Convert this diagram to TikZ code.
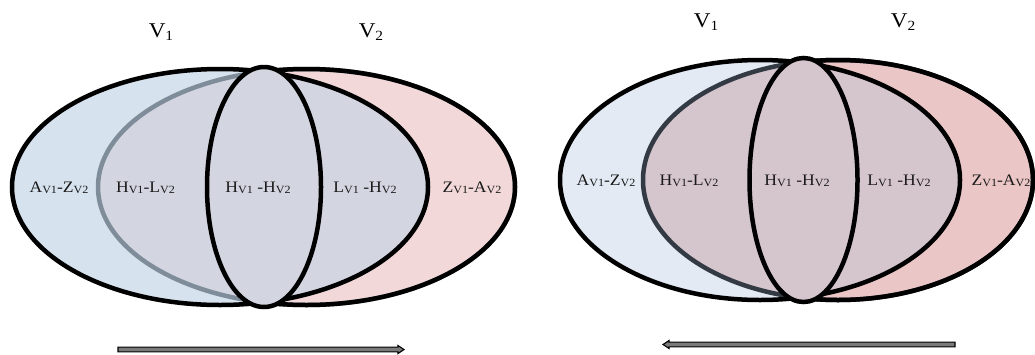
\documentclass[tikz,border=0pt]{standalone}
\usepackage{fontspec}
\setmainfont{Liberation Serif}
\usepackage{graphicx}
\definecolor{blueA}{HTML}{D6E2EE}
\definecolor{pinkA}{HTML}{F2D8D9}
\definecolor{overA}{HTML}{D3D6E1}
\definecolor{lineA}{HTML}{7F8C99}
\definecolor{blueB}{HTML}{E3EAF4}
\definecolor{pinkB}{HTML}{EBC6C6}
\definecolor{overB}{HTML}{D5C5CD}
\definecolor{lineB}{HTML}{333A44}
\definecolor{arrowgray}{HTML}{7A7A7A}
\newcommand\sv[1]{{\fontsize{11}{11}\selectfont\raisebox{-1pt}{#1}}}
\newcommand\vv[1]{{\fontsize{14}{14}\selectfont\raisebox{-3pt}{#1}}}
\tikzset{
  outline/.style={line width=4.5pt, draw=black},
  lab/.style={font=\fontsize{16}{16}\selectfont, inner sep=0pt, xscale=1.1, text=black!90},
  vlab/.style={font=\fontsize{21}{21}\selectfont, inner sep=0pt, xscale=1.1},
  blockarrow/.style={draw=black, fill=arrowgray, line width=1.1pt, line join=miter}
}
\begin{document}
\begin{tikzpicture}[x=1pt,y=-1pt]
\useasboundingbox (0,0) rectangle (1035,354);
% ---------------- left diagram ----------------
\fill[pinkA] (306.5,187) ellipse [x radius=208.5pt, y radius=118pt];
\fill[blueA] (220,187) ellipse [x radius=208pt, y radius=118pt];
\begin{scope}
  \clip (220,187) ellipse [x radius=208pt, y radius=118pt];
  \fill[overA] (306.5,187) ellipse [x radius=208.5pt, y radius=118pt];
\end{scope}
\draw[line width=4.5pt, draw=lineA] (306.5,187) ellipse [x radius=208.5pt, y radius=118pt];
\begin{scope}[even odd rule]
  \clip (-10,-10) rectangle (520,370) (220,187) ellipse [x radius=208pt, y radius=118pt];
  \draw[outline] (306.5,187) ellipse [x radius=208.5pt, y radius=118pt];
\end{scope}
\draw[outline] (220,187) ellipse [x radius=208pt, y radius=118pt];
\draw[outline, fill=overA] (264,187) ellipse [x radius=57pt, y radius=120pt];
\node[vlab] (v1a) at (161,32) {V\vv{1}};
\node[vlab] (v2a) at (371,32) {V\vv{2}};
\node[lab] (a1) at (59,188) {A\sv{V1}-Z\sv{V2}};
\node[lab] (a2) at (145.5,188) {H\sv{V1}-L\sv{V2}};
\node[lab] (a3) at (258,188) {H\sv{V1} -H\sv{V2}};
\node[lab] (a4) at (365,188) {L\sv{V1} -H\sv{V2}};
\node[lab] (a5) at (472,188) {Z\sv{V1}-A\sv{V2}};
\coordinate (ltail) at (118,349.5);
\coordinate (ltip) at (404,349.5);
\draw[blockarrow] (ltail) ++(0,-2.4) -- (398,347.1) -- (398,345.5) -- (ltip) -- (398,353.5) -- (398,351.9) -- (118,351.9) -- cycle;
% ---------------- right diagram ----------------
\fill[pinkB] (838,180) ellipse [x radius=195pt, y radius=120pt];
\fill[blueB] (760,180) ellipse [x radius=200pt, y radius=120pt];
\begin{scope}
  \clip (760,180) ellipse [x radius=200pt, y radius=120pt];
  \fill[overB] (838,180) ellipse [x radius=195pt, y radius=120pt];
\end{scope}
\draw[line width=4.5pt, draw=lineB] (838,180) ellipse [x radius=195pt, y radius=120pt];
\begin{scope}[even odd rule]
  \clip (530,-10) rectangle (1045,370) (760,180) ellipse [x radius=200pt, y radius=120pt];
  \draw[outline] (838,180) ellipse [x radius=195pt, y radius=120pt];
\end{scope}
\draw[outline] (760,180) ellipse [x radius=200pt, y radius=120pt];
\draw[outline, fill=overB] (803.5,180) ellipse [x radius=54pt, y radius=122pt];
\node[vlab] (v1b) at (706,22) {V\vv{1}};
\node[vlab] (v2b) at (903,22) {V\vv{2}};
\node[lab] (b1) at (606,181) {A\sv{V1}-Z\sv{V2}};
\node[lab] (b2) at (689,181) {H\sv{V1}-L\sv{V2}};
\node[lab] (b3) at (797,181) {H\sv{V1} -H\sv{V2}};
\node[lab] (b4) at (899,181) {L\sv{V1} -H\sv{V2}};
\node[lab] (b5) at (1001,181) {Z\sv{V1}-A\sv{V2}};
\coordinate (rtail) at (955,344.5);
\coordinate (rtip) at (663,344.5);
\draw[blockarrow] (rtail) ++(0,-2.4) -- (669,342.1) -- (669,340.5) -- (rtip) -- (669,348.5) -- (669,346.9) -- (955,346.9) -- cycle;
\end{tikzpicture}
\end{document}
